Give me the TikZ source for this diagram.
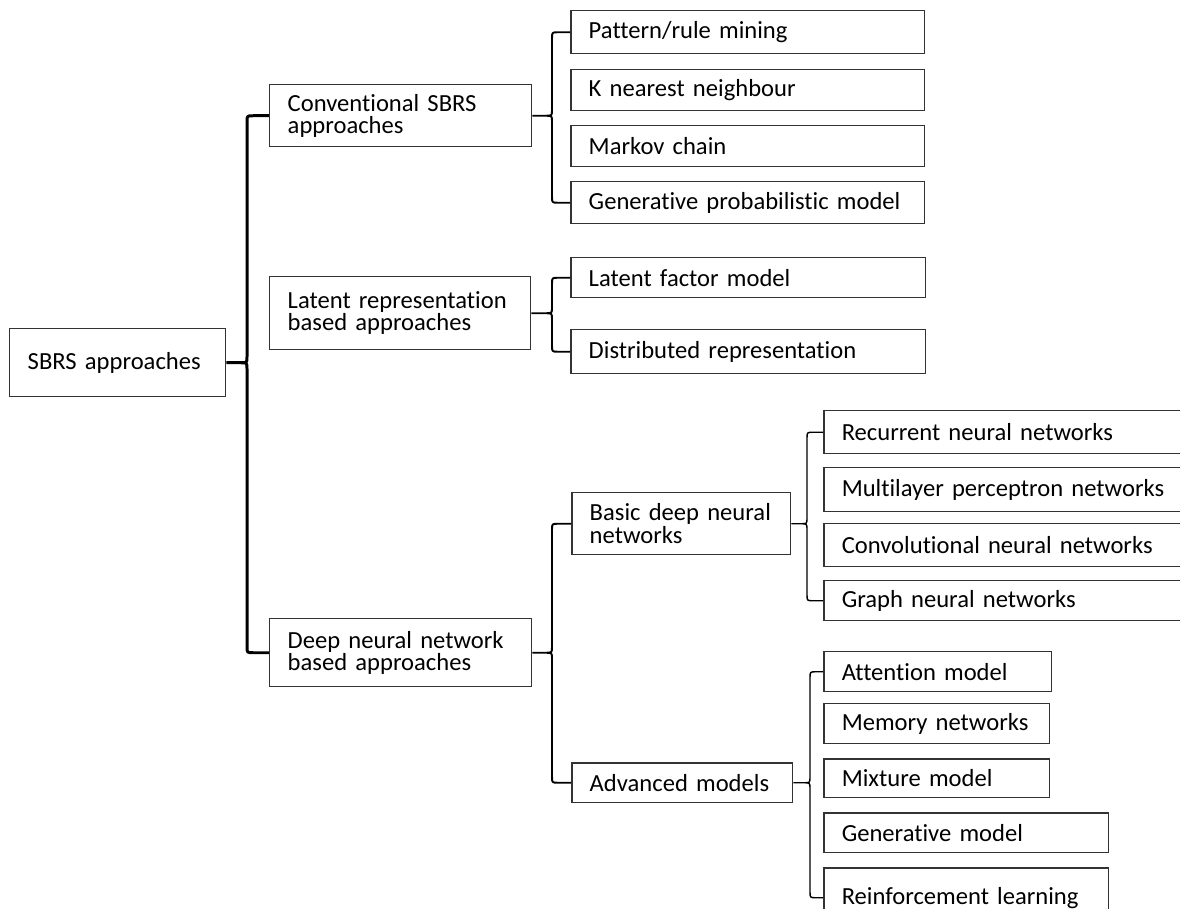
\documentclass[tikz,border=0pt]{standalone}
\usepackage{fontspec}
\setmainfont{Carlito}[Ligatures=NoCommon]
\usetikzlibrary{calc}

\tikzset{
  box/.style={draw=black!80, line width=0.85pt, anchor=north west, align=left,
    inner xsep=0.36cm, inner ysep=0pt,
    font=\fontsize{14pt}{12.8pt}\selectfont,
    execute at begin node={\hyphenpenalty=10000\relax}},
  brace/.style={line width=0.8pt, line join=round}
}

% curly bracket: parent, first child, last child, gap
\newcommand{\curly}[5][]{%
  \draw[brace,#1] let \p1=(#2.east), \p2=(#3.west), \p3=(#4.west),
      \p4=([xshift=-#5]#3.west) in
    (\p2) -- (\x4+3.5pt,\y2) .. controls (\x4,\y2) .. (\x4,\y2-3.5pt)
    -- (\x4,\y1+3.5pt) .. controls (\x4,\y1) .. (\x4-3.5pt,\y1)
    .. controls (\x4,\y1) .. (\x4,\y1-3.5pt)
    -- (\x4,\y3+3.5pt) .. controls (\x4,\y3) .. (\x4+3.5pt,\y3) -- (\p3)
    (\p1) -- (\x4-3.5pt,\y1);
}

\begin{document}
\begin{tikzpicture}[x=0.02cm,y=-0.02cm]
\useasboundingbox (0,0) rectangle (1180,909);
\clip (0,0) rectangle (1180,909);

% ==== root and first level ====
\node[box, text width=3.6cm, minimum height=1.36cm] (root) at (9,328) {SBRS approaches};
\node[box, text width=4.52cm, minimum height=1.24cm] (conv) at (269,84) {Conventional SBRS\\approaches};
\node[box, text width=4.5cm, minimum height=1.46cm] (latent) at (269,276) {Latent representation\\based approaches};
\node[box, text width=4.52cm, minimum height=1.36cm] (deep) at (269,618) {Deep neural network\\based approaches};

% ==== conventional ====
\node[box, text width=6.36cm, minimum height=0.86cm] (pattern) at (570,10) {Pattern/rule mining};
\node[box, text width=6.36cm, minimum height=0.82cm] (knn) at (570,69) {K nearest neighbour};
\node[box, text width=6.36cm, minimum height=0.82cm] (markov) at (570,125) {Markov chain};
\node[box, text width=6.36cm, minimum height=0.84cm] (genprob) at (570,181) {Generative probabilistic model};

% ==== latent representation ====
\node[box, text width=6.38cm, minimum height=0.8cm] (latfac) at (570,257) {Latent factor model};
\node[box, text width=6.38cm, minimum height=0.88cm] (distrib) at (570,329) {Distributed representation};

% ==== deep neural network ====
\node[box, text width=3.66cm, minimum height=1.24cm] (basic) at (571,492) {Basic deep neural\\networks};
\node[box, text width=3.7cm, minimum height=0.8cm] (adv) at (571,762) {Advanced models};

\node[box, text width=6.9cm, minimum height=0.86cm] (rnn) at (823,410) {Recurrent neural networks};
\node[box, text width=6.9cm, minimum height=0.88cm] (mlp) at (823,467) {Multilayer perceptron networks};
\node[box, text width=6.9cm, minimum height=0.86cm] (cnn) at (823,523) {Convolutional neural networks};
\node[box, text width=6.9cm, minimum height=0.8cm] (gnn) at (823,580) {Graph neural networks};

\node[box, text width=3.84cm, minimum height=0.8cm] (attn) at (823,651) {Attention model};
\node[box, text width=3.8cm, minimum height=0.8cm] (memory) at (823,703) {Memory networks};
\node[box, text width=3.8cm, minimum height=0.78cm] (mixture) at (823,758) {Mixture model};
\node[box, text width=4.98cm, minimum height=0.8cm] (genmod) at (823,812) {Generative model};
\node[box, text width=4.98cm, minimum height=1.2cm] (reinf) at (823,867) {Reinforcement learning};

% ==== brackets ====
\curly[line width=1.7pt]{root}{conv}{deep}{0.44cm}
\curly[line width=1.1pt]{conv}{pattern}{genprob}{0.36cm}
\curly[line width=1.1pt]{latent}{latfac}{distrib}{0.36cm}
\curly[line width=1.1pt]{deep}{basic}{adv}{0.38cm}
\curly{basic}{rnn}{gnn}{0.32cm}
\curly{adv}{attn}{reinf}{0.26cm}

\end{tikzpicture}
\end{document}
